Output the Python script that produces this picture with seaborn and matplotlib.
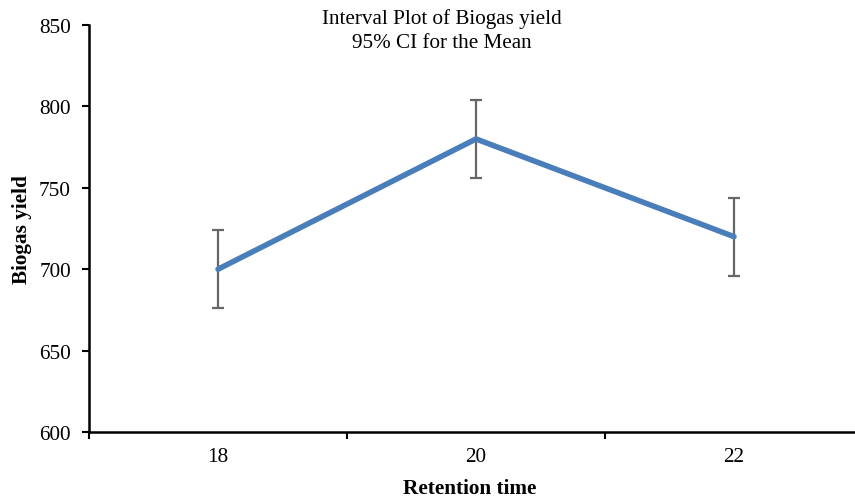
import matplotlib
matplotlib.use("Agg")
import matplotlib.pyplot as plt
import seaborn as sns
import pandas as pd

retention_time = ["18", "20", "22"]
biogas_mean = [700, 780, 720]
ci_half_width = [24, 24, 24]
y_ticks = [600, 650, 700, 750, 800, 850]

sns.set_theme(style="ticks")
plt.rcParams["font.family"] = ["Liberation Serif", "DejaVu Serif"]
plt.rcParams["text.color"] = "black"
plt.rcParams["axes.labelcolor"] = "black"

df = pd.DataFrame({"pos": range(len(retention_time)), "mean": biogas_mean, "ci": ci_half_width})

fig = plt.figure(figsize=(8.55, 5.02), dpi=100)
ax = fig.add_axes([89 / 855, 69 / 502, 774 / 855, 407 / 502])

ax.errorbar(df["pos"], df["mean"], yerr=df["ci"], fmt="none", ecolor="#666666",
            elinewidth=1.6, capsize=4.5, capthick=1.6, zorder=2)
sns.lineplot(data=df, x="pos", y="mean", ax=ax, color="#4A7EBB", linewidth=4.0,
             zorder=3, solid_capstyle="round")

ax.set_xlim(-0.5, 2.5)
ax.set_ylim(600, 850)
ax.set_yticks(y_ticks)
ax.set_xticks(df["pos"])
ax.set_xticklabels(retention_time)
ax.set_xticks([-0.5, 0.5, 1.5, 2.5], minor=True)
ax.tick_params(axis="x", which="major", length=0, pad=11, labelsize=15.3, colors="black")
ax.tick_params(axis="x", which="minor", length=5, width=1.5, direction="out", color="black")
ax.tick_params(axis="y", length=5, width=1.5, direction="out", labelsize=15.3, pad=8, colors="black")

for side in ("top", "right"):
    ax.spines[side].set_visible(False)
for side in ("left", "bottom"):
    ax.spines[side].set_linewidth(1.8)
    ax.spines[side].set_color("black")

ax.set_xlabel("Retention time", fontsize=15.3, fontweight="bold")
ax.xaxis.set_label_coords((470 - 89) / 774, -(489 - 433) / 407)
ax.xaxis.label.set_va("center")
ax.set_ylabel("Biogas yield", fontsize=15.3, fontweight="bold")
ax.yaxis.set_label_coords(-(89 - 22) / 774, 0.5)
ax.yaxis.label.set_va("center")

fig.text(442 / 855, 1 - 31 / 502, "Interval Plot of Biogas yield\n95% CI for the Mean",
         ha="center", va="center", fontsize=15.2, linespacing=1.38)

fig.savefig("out.png", dpi=100)
